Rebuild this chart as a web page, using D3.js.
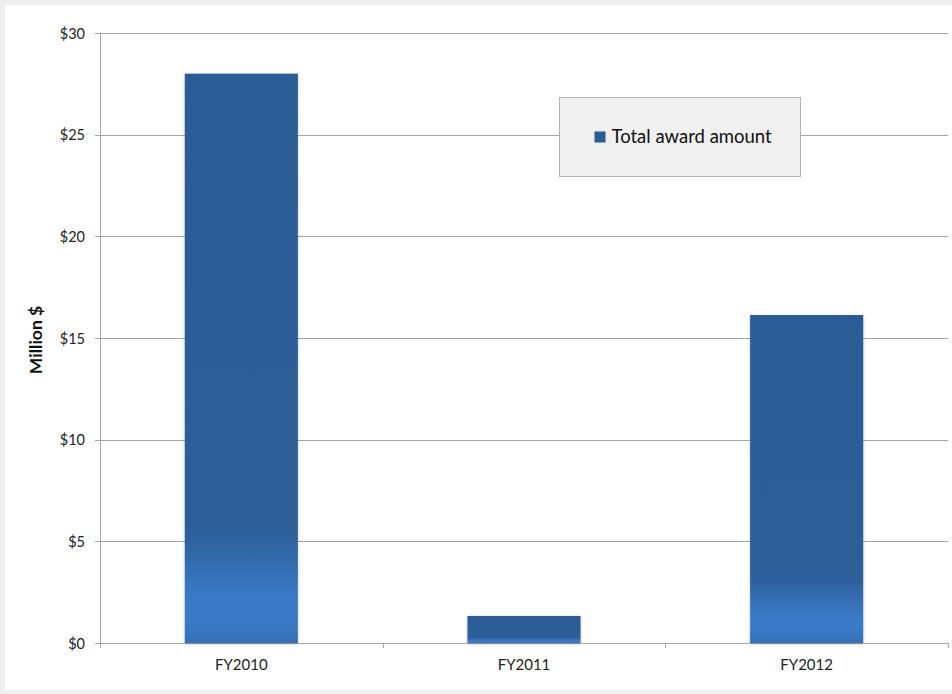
<!DOCTYPE html>
<html>
<head>
<meta charset="utf-8">
<script src="https://cdn.jsdelivr.net/npm/d3@7"></script>
<style>
  html, body { margin: 0; padding: 0; background: #efefef; }
  svg { display: block; }
</style>
</head>
<body>
<svg id="chart" width="952" height="694"></svg>
<script>
// Award totals by fiscal year, in millions of dollars
const categories = ["FY2010", "FY2011", "FY2012"];
const awardValues = [28.0, 1.33, 16.13];
const tickValues = [0, 5, 10, 15, 20, 25, 30];
const tickLabels = ["$0", "$5", "$10", "$15", "$20", "$25", "$30"];
const seriesName = "Total award amount";
const axisTitle = "Million $";

const FONT = "Lato, 'Open Sans', 'Liberation Sans', sans-serif";
const svg = d3.select("#chart");
const W = 952, H = 694;
const margin = { left: 100, right: 4, top: 33, bottom: 51 };
const plotW = W - margin.left - margin.right;
const plotH = H - margin.top - margin.bottom;

// chart surface
svg.append("rect").attr("x", 5).attr("y", 5).attr("width", W - 5).attr("height", 685).attr("fill", "#ffffff");

const defs = svg.append("defs");
const grad = defs.append("linearGradient").attr("id", "barFill")
  .attr("x1", 0).attr("y1", 0).attr("x2", 0).attr("y2", 1);
[[0, "#2c5c96"], [0.8, "#2d5e98"], [0.92, "#3a7ac6"], [0.96, "#3a7ac6"], [1, "#3570b6"]]
  .forEach(([o, c]) => grad.append("stop").attr("offset", o).attr("stop-color", c));

const shadow = defs.append("filter").attr("id", "barShadow")
  .attr("x", "-10%").attr("y", "-10%").attr("width", "120%").attr("height", "120%");
shadow.append("feDropShadow").attr("dx", 0).attr("dy", 1).attr("stdDeviation", 1.5)
  .attr("flood-color", "#000").attr("flood-opacity", 0.25);

const g = svg.append("g").attr("transform", `translate(${margin.left},${margin.top})`);

const x = d3.scaleBand().domain(categories).range([0, plotW]).paddingInner(0.6).paddingOuter(0.3);
const y = d3.scaleLinear().domain([0, 30]).range([plotH, 0]);

// horizontal gridlines with left ticks
const yAxis = d3.axisLeft(y).tickValues(tickValues)
  .tickFormat((d, i) => tickLabels[i]).tickSize(-plotW).tickPadding(10);
const yg = g.append("g").call(yAxis);
yg.select(".domain").remove();
yg.selectAll(".tick line").attr("stroke", "#a6a6a6").attr("x1", -5).attr("shape-rendering", "crispEdges");
yg.selectAll(".tick text").attr("font-family", FONT)
  .attr("font-size", 14.5).attr("fill", "#222").attr("x", -15).attr("dy", "0.36em");

// vertical axis line
g.append("line").attr("x1", 0).attr("x2", 0).attr("y1", 0).attr("y2", plotH)
  .attr("stroke", "#a6a6a6").attr("shape-rendering", "crispEdges");

// category boundary ticks along the base
const step = plotW / categories.length;
const boundaries = d3.range(categories.length + 1).map(i => i * step);
g.selectAll(".cat-tick").data(boundaries).enter().append("line")
  .attr("x1", d => Math.round(d) + 0.5).attr("x2", d => Math.round(d) + 0.5)
  .attr("y1", plotH).attr("y2", plotH + 5).attr("stroke", "#a6a6a6");

// bars
g.selectAll(".bar").data(awardValues).enter().append("rect")
  .attr("x", (d, i) => x(categories[i]))
  .attr("y", d => y(d))
  .attr("width", x.bandwidth())
  .attr("height", d => plotH - y(d))
  .attr("fill", "url(#barFill)")
  .attr("filter", "url(#barShadow)");

// category labels
g.selectAll(".cat-label").data(categories).enter().append("text")
  .attr("x", d => x(d) + x.bandwidth() / 2).attr("y", plotH + 27)
  .attr("text-anchor", "middle")
  .attr("font-family", FONT)
  .attr("font-size", 15).attr("fill", "#222").text(d => d);

// axis title
svg.append("text").attr("transform", `translate(42,${margin.top + plotH / 2 + 2}) rotate(-90)`)
  .attr("text-anchor", "middle")
  .attr("font-family", FONT)
  .attr("font-weight", "bold").attr("font-size", 17.5).attr("fill", "#111").text(axisTitle);

// legend
const lg = svg.append("g").attr("transform", "translate(559.5,97.5)");
lg.append("rect").attr("width", 241).attr("height", 79).attr("fill", "#f0f0f0").attr("stroke", "#b4b4b4");
lg.append("rect").attr("x", 35).attr("y", 34).attr("width", 11).attr("height", 11).attr("fill", "#2c5c96");
lg.append("text").attr("x", 52).attr("y", 45)
  .attr("font-family", FONT)
  .attr("font-size", 18.5).attr("fill", "#111").text(seriesName);
</script>
</body>
</html>
